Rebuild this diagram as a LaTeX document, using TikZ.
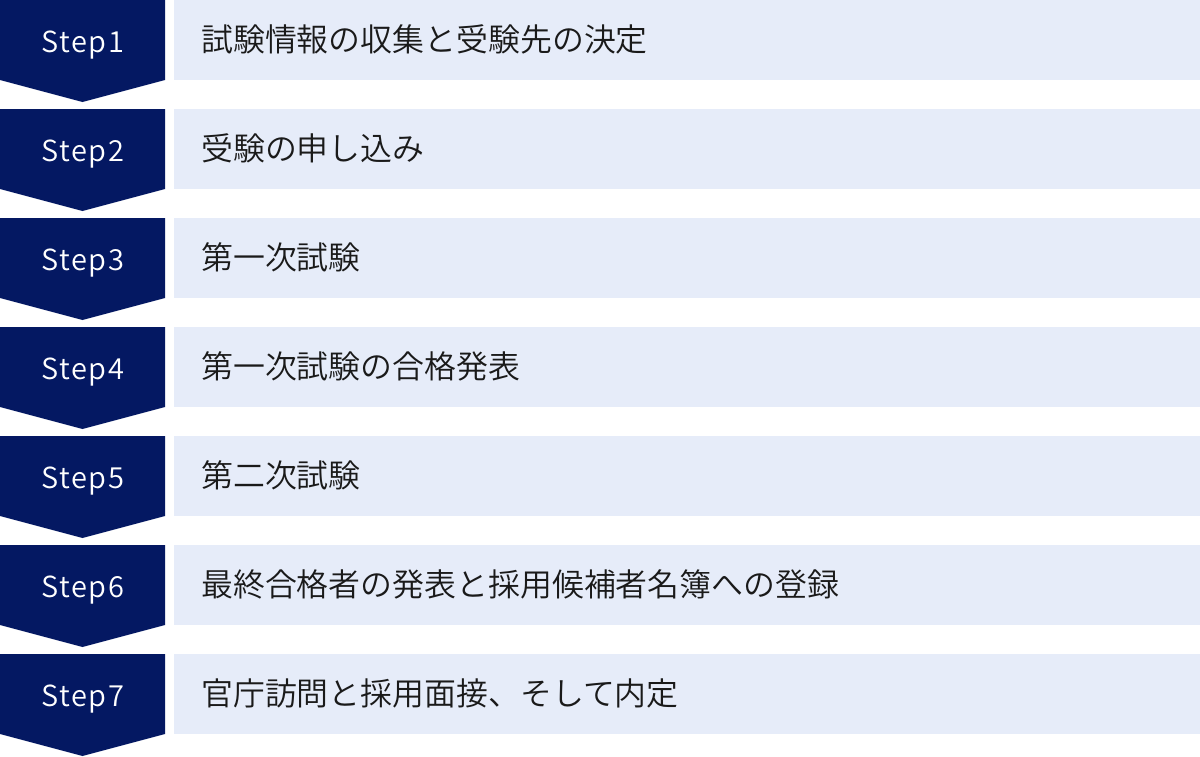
\documentclass[tikz,border=0pt]{standalone}
\usepackage{fontspec}
\IfFontExistsTF{Noto Sans CJK JP DemiLight}
  {\newfontfamily\jp{Noto Sans CJK JP DemiLight}\newfontfamily\stepfont[LetterSpace=5]{Noto Sans CJK JP DemiLight}}
  {\newfontfamily\jp{Noto Sans CJK JP}\newfontfamily\stepfont[LetterSpace=5]{Noto Sans CJK JP}}
\definecolor{navy}{HTML}{041862}
\definecolor{pale}{HTML}{E6ECF9}
\definecolor{ink}{HTML}{1A1A1A}
\begin{document}
\begin{tikzpicture}[x=1pt,y=-1pt,
  stepbox/.style={fill=navy},
  stepnum/.style={anchor=base,text=white,inner sep=0pt,font=\stepfont\fontsize{29}{35}\selectfont},
  bar/.style={fill=pale,draw=none,anchor=north west,minimum width=1026pt,minimum height=80pt,inner sep=0pt,outer sep=0pt},
  label/.style={anchor=base west,text=ink,inner sep=0pt,font=\jp\fontsize{31.9}{38}\selectfont}]
\useasboundingbox (0,0) rectangle (1200,756);
\foreach \k/\t in {1/{試験情報の収集と受験先の決定},2/{受験の申し込み},3/{第一次試験},4/{第一次試験の合格発表},5/{第二次試験},6/{最終合格者の発表と採用候補者名簿への登録},7/{官庁訪問と採用面接、そして内定}}{
  \pgfmathsetmacro{\top}{109*(\k-1)}
  \fill[stepbox] (0,\top) -- (165,\top) -- (165,\top+80) -- (82.5,\top+102) -- (0,\top+80) -- cycle;
  \node[bar] (bar\k) at (174,\top) {};
  \node[stepnum] (step\k) at (83,\top+52) {Step\k};
  \node[label] (text\k) at (201,\top+51.5) {\t};
}
\end{tikzpicture}
\end{document}
